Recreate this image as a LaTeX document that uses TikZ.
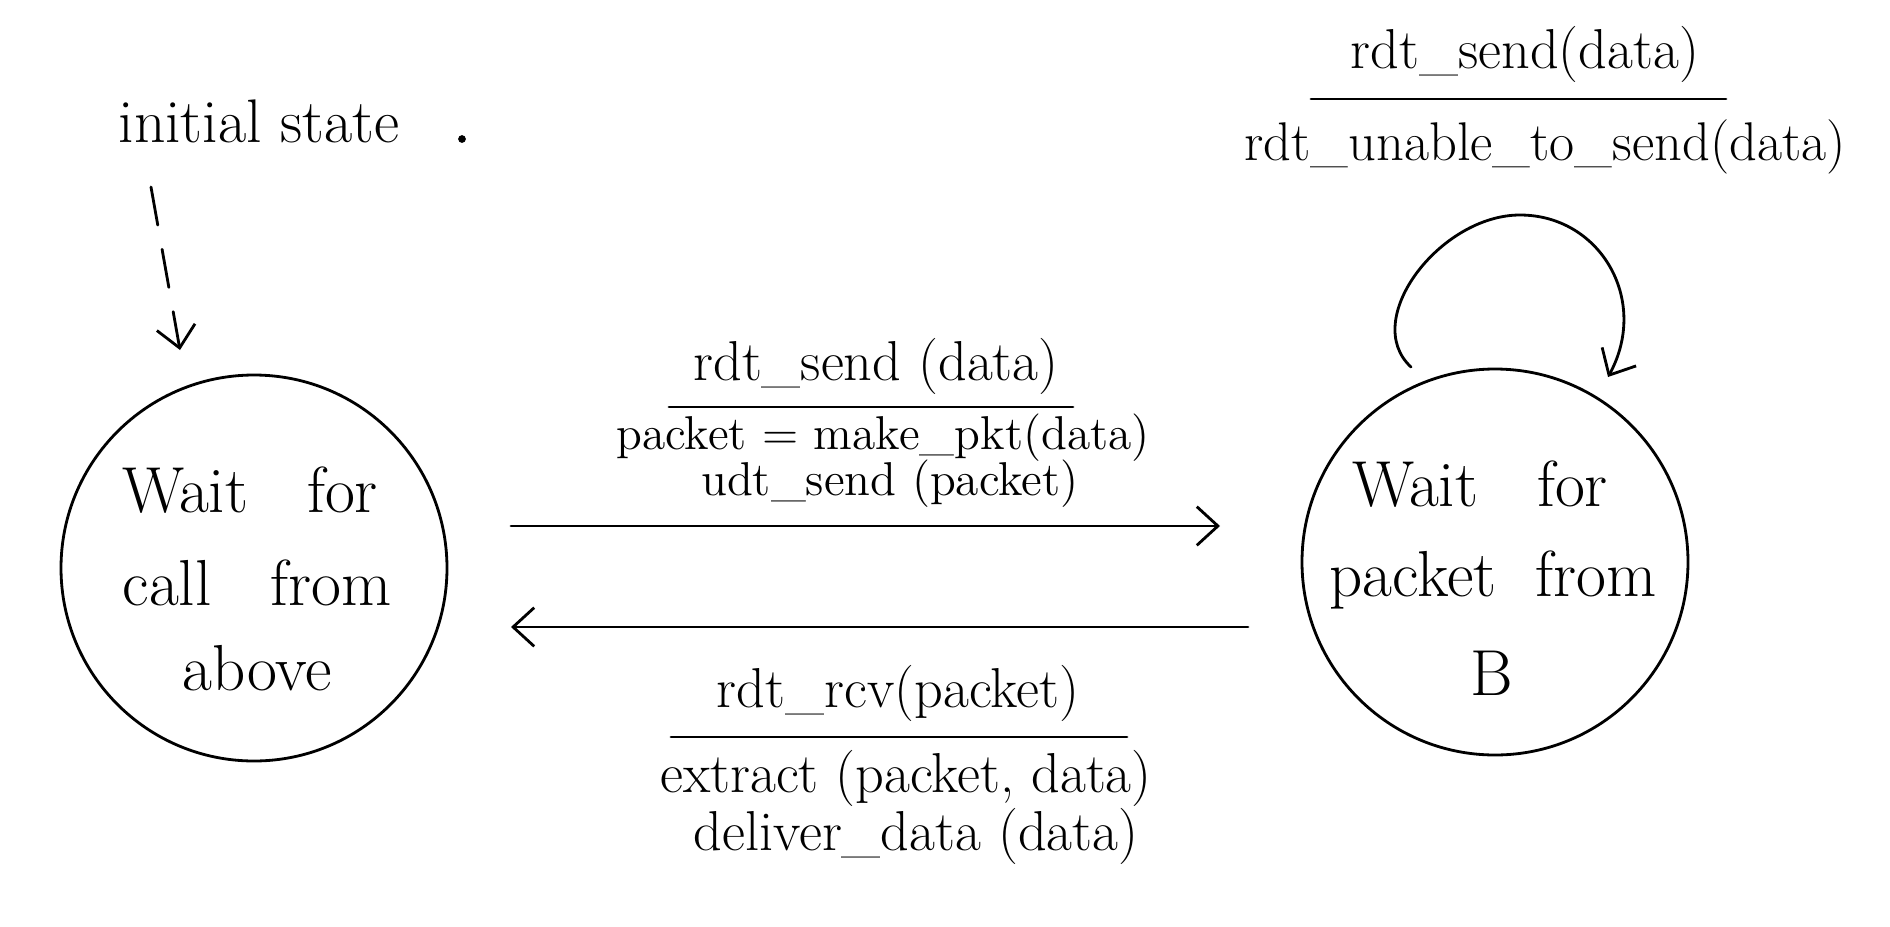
\documentclass[tikz,border=0pt]{standalone}
\usetikzlibrary{arrows.meta}
\begin{document}
\begin{tikzpicture}[x=0.01cm,y=-0.01cm,
  line width=0.8pt, line cap=round,
  state/.style={draw, circle, minimum size=386*0.01cm, inner sep=0pt},
  stxt/.style={inner sep=0pt, font=\fontsize{18.5}{22}\selectfont},
  lbl/.style={inner sep=0pt, font=\fontsize{16}{19}\selectfont},
  slbl/.style={inner sep=0pt, font=\fontsize{13.5}{16}\selectfont},
  tip/.style={-{Straight Barb[length=6pt,width=11pt,line width=0.8pt]}}]
\useasboundingbox (0,0) rectangle (1890,927);
% states
\node[state] (A) at (254,568) {};
\node[stxt] (A1) at (250,490) {Wait\ \ \ for};
\node[stxt] (A2) at (257,583) {call\ \ \ from};
\node[stxt] (A3) at (257,668) {above};
\node[state] (B) at (1495,562) {};
\node[stxt] (B1) at (1480,484) {Wait\ \ \ for};
\node[stxt] (B2) at (1493,580) {packet\ \ from};
\node[stxt] (B3) at (1492,673) {B};
% initial
\node[lbl, font=\fontsize{17.5}{21}\selectfont] (init) at (259,121) {initial state};
\fill (462,139) circle (1.1pt);
\coordinate (i0) at (151,187);
\coordinate (i1) at (180,350);
\draw[tip, dash pattern=on 11pt off 7pt] (i0) -- (i1);
% forward transition
\coordinate (f0) at (511,526);
\coordinate (f1) at (1220,526);
\draw[tip] (f0) -- (f1);
\node[lbl] (fe) at (876,366) {rdt\_send (data)};
\draw (669,407) -- (1073,407);
\node[slbl] (fa1) at (883,438) {packet = make\_pkt(data)};
\node[slbl] (fa2) at (890,484) {udt\_send (packet)};
% backward transition
\coordinate (b0) at (1248,627);
\coordinate (b1) at (511,627);
\draw[tip] (b0) -- (b1);
\node[lbl] (be) at (898,693) {rdt\_rcv(packet)};
\draw (671,737) -- (1127,737);
\node[lbl] (ba1) at (906,778) {extract (packet, data)};
\node[lbl] (ba2) at (916,836) {deliver\_data (data)};
% self loop
\coordinate (s0) at (1411,367);
\coordinate (s1) at (1608,377);
\draw[tip] (s0) .. controls (1360,320) and (1440,215) .. (1520,215)
   .. controls (1600,215) and (1650,300) .. (s1);
\node[lbl] (se) at (1525,54) {rdt\_send(data)};
\draw (1311,99) -- (1726,99);
\node[lbl, font=\fontsize{15.5}{19}\selectfont] (sa) at (1545,147) {rdt\_unable\_to\_send(data)};
\end{tikzpicture}
\end{document}
